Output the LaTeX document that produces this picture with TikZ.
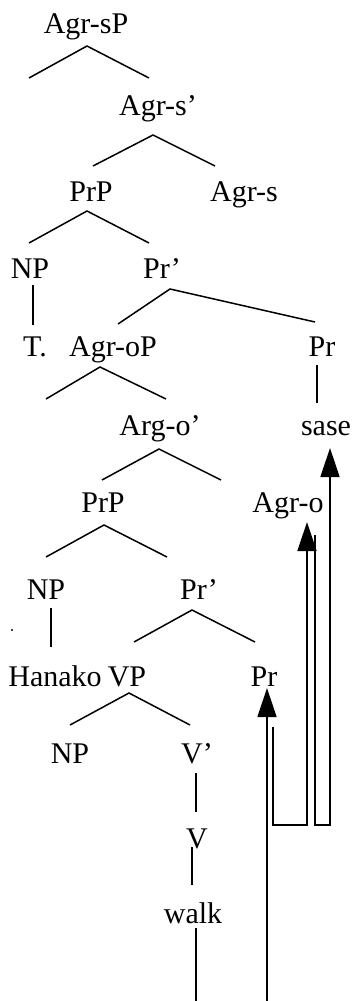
\documentclass[tikz,border=0pt]{standalone}
\usepackage{fontspec}
\setmainfont{Liberation Serif}
\usetikzlibrary{arrows.meta}
\begin{document}
\begin{tikzpicture}[x=1pt,y=-1pt,
  lbl/.style={anchor=base,inner sep=0pt,font=\fontsize{30}{35}\selectfont},
  br/.style={line width=1.5pt},
  mv/.style={line width=1.5pt,-{Triangle[length=29pt,width=19pt]}}]
\useasboundingbox (0,0) rectangle (355,1001);
% labels
\node[lbl] (agrsP) at (86,33) {Agr-sP};
\node[lbl] (agrsbar) at (158,115) {Agr-s’};
\node[lbl] (prP1) at (91,201) {PrP};
\node[lbl] (agrs) at (244,201) {Agr-s};
\node[lbl] (np1) at (30,278) {NP};
\node[lbl] (prbar1) at (162,278) {Pr’};
\node[lbl] (t) at (35,356) {T.};
\node[lbl] (agroP) at (113,356) {Agr-oP};
\node[lbl] (pr1) at (322,356) {Pr};
\node[lbl] (argobar) at (160,435) {Arg-o’};
\node[lbl] (sase) at (326,435) {sase};
\node[lbl] (prP2) at (103,512) {PrP};
\node[lbl] (agro) at (288,512) {Agr-o};
\node[lbl] (np2) at (46,599) {NP};
\node[lbl] (prbar2) at (199,599) {Pr’};
\node[lbl] (hanako) at (55,686) {Hanako};
\node[lbl] (vp) at (127,686) {VP};
\node[lbl] (pr2) at (264,686) {Pr};
\node[lbl] (np3) at (70,763) {NP};
\node[lbl] (vbar) at (197,763) {V’};
\node[lbl] (v) at (197,848) {V};
\node[lbl] (walk) at (193,923) {walk};
% branch points
\coordinate (a1) at (87,46);  \coordinate (a1l) at (29,78);  \coordinate (a1r) at (149,78);
\coordinate (a2) at (153,135); \coordinate (a2l) at (93,166); \coordinate (a2r) at (215,166);
\coordinate (a3) at (87,211); \coordinate (a3l) at (29,243); \coordinate (a3r) at (149,243);
\coordinate (n1t) at (33,285); \coordinate (n1b) at (33,325);
\coordinate (a4) at (170,289); \coordinate (a4l) at (118,324); \coordinate (a4r) at (315,322);
\coordinate (a5) at (100,367); \coordinate (a5l) at (46,399); \coordinate (a5r) at (166,399);
\coordinate (p1t) at (317,365); \coordinate (p1b) at (317,403);
\coordinate (a6) at (159,449); \coordinate (a6l) at (102,480); \coordinate (a6r) at (221,480);
\coordinate (a7) at (104,525); \coordinate (a7l) at (46,557); \coordinate (a7r) at (167,557);
\coordinate (n2t) at (51,608); \coordinate (n2b) at (51,647);
\coordinate (a8) at (192,610); \coordinate (a8l) at (134,642); \coordinate (a8r) at (255,642);
\coordinate (a9) at (129,693); \coordinate (a9l) at (70,725); \coordinate (a9r) at (190,725);
\coordinate (vbt) at (196,773); \coordinate (vbb) at (196,812);
\coordinate (vt) at (192,847); \coordinate (vb) at (192,885);
\coordinate (wt) at (196,928); \coordinate (wb) at (196,1001);
% branches
\draw[br] (a1l) -- (a1) -- (a1r);
\draw[br] (a2l) -- (a2) -- (a2r);
\draw[br] (a3l) -- (a3) -- (a3r);
\draw[br] (n1t) -- (n1b);
\draw[br] (a4l) -- (a4) -- (a4r);
\draw[br] (a5l) -- (a5) -- (a5r);
\draw[br] (p1t) -- (p1b);
\draw[br] (a6l) -- (a6) -- (a6r);
\draw[br] (a7l) -- (a7) -- (a7r);
\draw[br] (n2t) -- (n2b);
\draw[br] (a8l) -- (a8) -- (a8r);
\draw[br] (a9l) -- (a9) -- (a9r);
\draw[br] (vbt) -- (vbb);
\draw[br] (vt) -- (vb);
\draw[br] (wt) -- (wb);
% movement arrows
\coordinate (m1s) at (267,1001); \coordinate (m1e) at (267,688);
\coordinate (m2s) at (273,727);  \coordinate (m2e) at (307,522);
\coordinate (m3s) at (315,535);  \coordinate (m3e) at (330,448);
\draw[mv] (m1s) -- (m1e);
\draw[mv] (m2s) |- (307,825) -- (m2e);
\draw[mv] (m3s) |- (330,825) -- (m3e);
% stray dot
\fill (12,630) circle (1.2);
\end{tikzpicture}
\end{document}
